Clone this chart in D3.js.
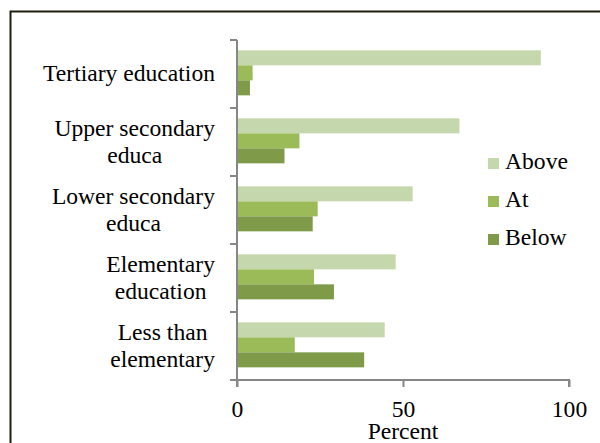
<!DOCTYPE html>
<html>
<head>
<meta charset="utf-8">
<script src="https://cdn.jsdelivr.net/npm/d3@7/dist/d3.min.js"></script>
</head>
<body style="margin:0;background:#fff">
<svg id="chart" width="600" height="443" font-family="Liberation Serif" style="display:block"></svg>
<script>
// Education levels, top to bottom
const categories = [
  ["Tertiary education"],
  ["Upper secondary", "educa"],
  ["Lower secondary", "educa"],
  ["Elementary", "education"],
  ["Less than", "elementary"]
];
const seriesNames = ["Above", "At", "Below"];
const aboveValues = [91.5, 67.0, 52.9, 47.8, 44.5];
const atValues    = [4.7, 18.8, 24.3, 23.2, 17.4];
const belowValues = [3.9, 14.3, 22.8, 29.2, 38.3];
const xTicks = [0, 50, 100];
const xTitle = "Percent";
const colors = ["#c5d7ad", "#9bbb59", "#7f9a49"];

const seriesValues = [aboveValues, atValues, belowValues];
const catKeys = categories.map(c => c.join(" "));
const fontName = "Liberation Serif";

const svg = d3.select("#chart");

// Outer frame
svg.append("rect")
  .attr("x", 10.5).attr("y", 11.5)
  .attr("width", 640).attr("height", 500)
  .attr("fill", "none")
  .attr("stroke", "#1e1e10")
  .attr("stroke-width", 2);

const x = d3.scaleLinear().domain([0, 100]).range([237, 569]);
const y0 = d3.scaleBand().domain(catKeys).range([40, 380]).paddingInner(0);
const y1 = d3.scaleBand().domain(seriesNames)
  .range([0, y0.bandwidth()])
  .paddingInner(0).paddingOuter(0.767).align(0.45);

// Bars
const groups = svg.append("g").selectAll("g")
  .data(catKeys)
  .join("g")
  .attr("transform", d => `translate(0,${y0(d)})`);

groups.selectAll("rect")
  .data((d, i) => seriesNames.map((s, j) => ({ s, j, v: seriesValues[j][i] })))
  .join("rect")
  .attr("x", x(0))
  .attr("y", d => y1(d.s))
  .attr("width", d => x(d.v) - x(0))
  .attr("height", y1.bandwidth())
  .attr("fill", d => colors[d.j]);

const axisColor = "#878787";

// Category axis: line with ticks at band boundaries
const yAxis = svg.append("g");
yAxis.append("line")
  .attr("x1", x(0)).attr("x2", x(0))
  .attr("y1", y0.range()[0]).attr("y2", y0.range()[1])
  .attr("stroke", axisColor).attr("stroke-width", 2);
const bounds = catKeys.map(k => y0(k)).concat([y0.range()[1]]);
yAxis.selectAll("line.tick")
  .data(bounds)
  .join("line")
  .attr("class", "tick")
  .attr("x1", x(0) - 7).attr("x2", x(0))
  .attr("y1", d => d).attr("y2", d => d)
  .attr("stroke", axisColor).attr("stroke-width", 2);

// Category labels: block right-aligned, lines centred within block
const fontSize = 23.6, lineH = 27, labelRight = 215;
categories.forEach((lines, i) => {
  const cy = y0(catKeys[i]) + y0.bandwidth() / 2;
  const g = svg.append("g");
  const texts = g.selectAll("text")
    .data(lines)
    .join("text")
    .attr("font-family", fontName)
    .attr("font-size", fontSize)
    .attr("fill", "#000")
    .attr("text-anchor", "middle")
    .attr("y", (d, k) => cy + (k - (lines.length - 1) / 2) * lineH + fontSize * 0.3)
    .text(d => d);
  let maxW = 0;
  texts.each(function () { maxW = Math.max(maxW, this.getComputedTextLength()); });
  texts.attr("x", labelRight - maxW / 2);
});

// Value axis
const xAxis = d3.axisBottom(x).tickValues(xTicks).tickSize(7).tickPadding(8).tickFormat(d3.format("d"));
const xg = svg.append("g")
  .attr("transform", `translate(0,${y0.range()[1]})`)
  .call(xAxis);
xg.attr("font-family", fontName).attr("font-size", fontSize);
xg.select(".domain").attr("stroke", axisColor).attr("stroke-width", 2)
  .attr("d", `M${x(0)},7V0H${x(100)}V7`);
xg.selectAll(".tick line").attr("stroke", axisColor).attr("stroke-width", 2);
xg.selectAll(".tick text")
  .attr("font-family", fontName)
  .attr("font-size", fontSize)
  .attr("fill", "#000")
  .attr("dy", null)
  .attr("y", 37);

svg.append("text")
  .attr("x", x(50)).attr("y", 439)
  .attr("text-anchor", "middle")
  .attr("font-family", fontName)
  .attr("font-size", fontSize)
  .attr("fill", "#000")
  .text(xTitle);

// Legend
const legY = d3.scalePoint().domain(seriesNames).range([169, 245]);
const leg = svg.append("g").selectAll("g")
  .data(seriesNames)
  .join("g")
  .attr("transform", d => `translate(488,${legY(d)})`);
leg.append("rect")
  .attr("x", 0).attr("y", -11)
  .attr("width", 11).attr("height", 11)
  .attr("fill", (d, i) => colors[i]);
leg.append("text")
  .attr("x", 17).attr("y", 0)
  .attr("font-family", fontName)
  .attr("font-size", fontSize)
  .attr("fill", "#000")
  .text(d => d);
</script>
</body>
</html>
